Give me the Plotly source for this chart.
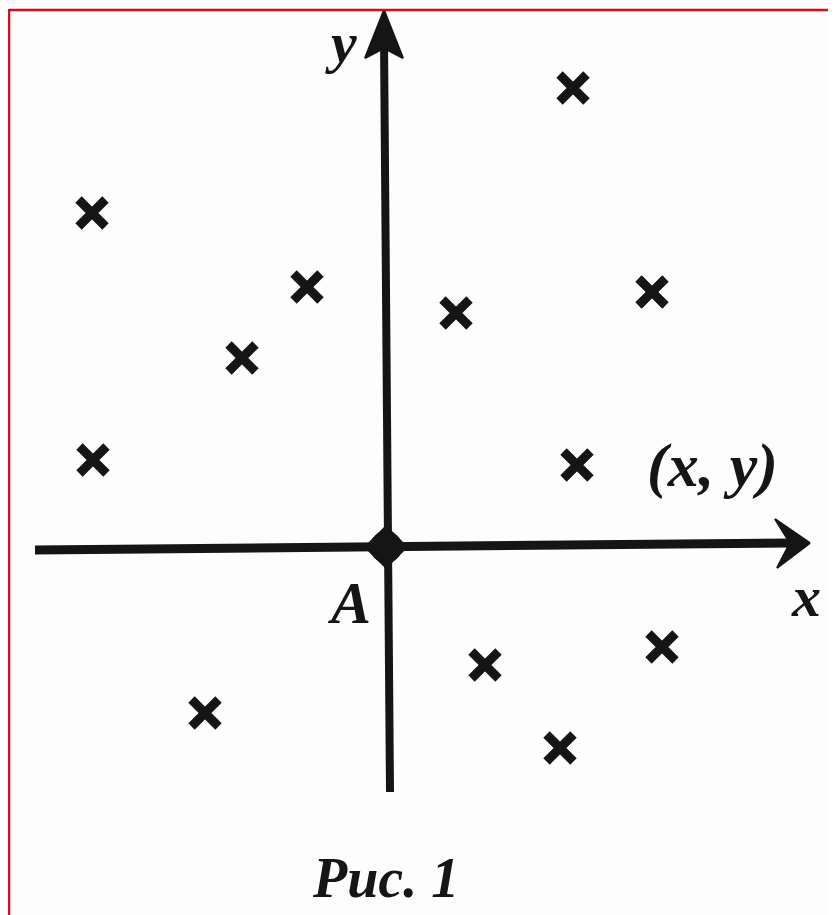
import plotly.graph_objects as go

# Point positions (image pixels, y grows downwards)
point_x = [92, 307, 242, 93, 573, 456, 652, 577, 485, 662, 205, 560]
point_y = [213, 287, 358, 460, 88, 313, 292, 465, 665, 647, 713, 748]

# Origin A
origin_x = [386]
origin_y = [547]

# Axis lines
x_axis_x = [35, 790]
x_axis_y = [550, 543]
y_axis_x = [390, 384]
y_axis_y = [792, 40]

# Arrowheads (outline of the filled heads)
x_head_x = [810, 775, 790, 777, 810]
x_head_y = [543, 519, 543, 568, 543]
y_head_x = [384, 403, 384, 365, 384]
y_head_y = [10, 58, 48, 58, 10]

# Labels
label_text = ["y", "x", "A", "(x, y)"]
label_x = [341, 806, 349, 712]
label_y = [42, 596, 603, 465]
label_size = [58, 58, 60, 62]

caption = "Рис. 1"

INK = "#151515"
SERIF = "Liberation Serif, DejaVu Serif, serif"

# the page body has an 8px margin, so the plot covers pixels 8..836 / 8..915
OFF = 8
W, H = 836, 915

fig = go.Figure()

# axes
fig.add_trace(go.Scatter(x=x_axis_x, y=x_axis_y, mode="lines",
                         line=dict(color=INK, width=9), hoverinfo="skip"))
fig.add_trace(go.Scatter(x=y_axis_x, y=y_axis_y, mode="lines",
                         line=dict(color=INK, width=8), hoverinfo="skip"))
fig.add_trace(go.Scatter(x=x_head_x, y=x_head_y, mode="lines", fill="toself",
                         fillcolor=INK, line=dict(color=INK, width=2), hoverinfo="skip"))
fig.add_trace(go.Scatter(x=y_head_x, y=y_head_y, mode="lines", fill="toself",
                         fillcolor=INK, line=dict(color=INK, width=2), hoverinfo="skip"))

# origin dot (rounded diamond)
fig.add_trace(go.Scatter(x=origin_x, y=origin_y, mode="markers",
                         marker=dict(symbol="diamond", size=34, color=INK), hoverinfo="skip"))
fig.add_trace(go.Scatter(x=origin_x, y=origin_y, mode="markers",
                         marker=dict(symbol="circle", size=32, color=INK), hoverinfo="skip"))

# crosses
fig.add_trace(go.Scatter(
    x=point_x, y=point_y, mode="markers",
    marker=dict(symbol="x-thin-open", size=27, color=INK,
                line=dict(color=INK, width=9)),
    hoverinfo="skip"))

# labels
for t, lx, ly, sz in zip(label_text, label_x, label_y, label_size):
    fig.add_annotation(x=lx, y=ly, text="<b><i>" + t + "</i></b>", showarrow=False,
                       font=dict(family=SERIF, size=sz, color=INK),
                       xanchor="center", yanchor="middle")

fig.add_annotation(x=385, y=878, text="<b><i>" + caption + "</i></b>", showarrow=False,
                   font=dict(family=SERIF, size=56, color=INK),
                   xanchor="center", yanchor="middle")

# red frame of the scan (left and top edges)
fig.add_shape(type="line", xref="x", yref="y", x0=9, x1=9, y0=9, y1=H,
              line=dict(color="#d40f1c", width=2.5))
fig.add_shape(type="line", xref="x", yref="y", x0=9, x1=W, y0=10, y1=10,
              line=dict(color="#d40f1c", width=2.5))

fig.update_layout(
    width=W - OFF, height=H - OFF,
    margin=dict(l=0, r=0, t=0, b=0),
    paper_bgcolor="#fdfdfd", plot_bgcolor="#fdfdfd",
    showlegend=False,
    xaxis=dict(range=[OFF, W], visible=False, fixedrange=True),
    yaxis=dict(range=[H, OFF], visible=False, fixedrange=True),
)

fig.write_html("out.html")
